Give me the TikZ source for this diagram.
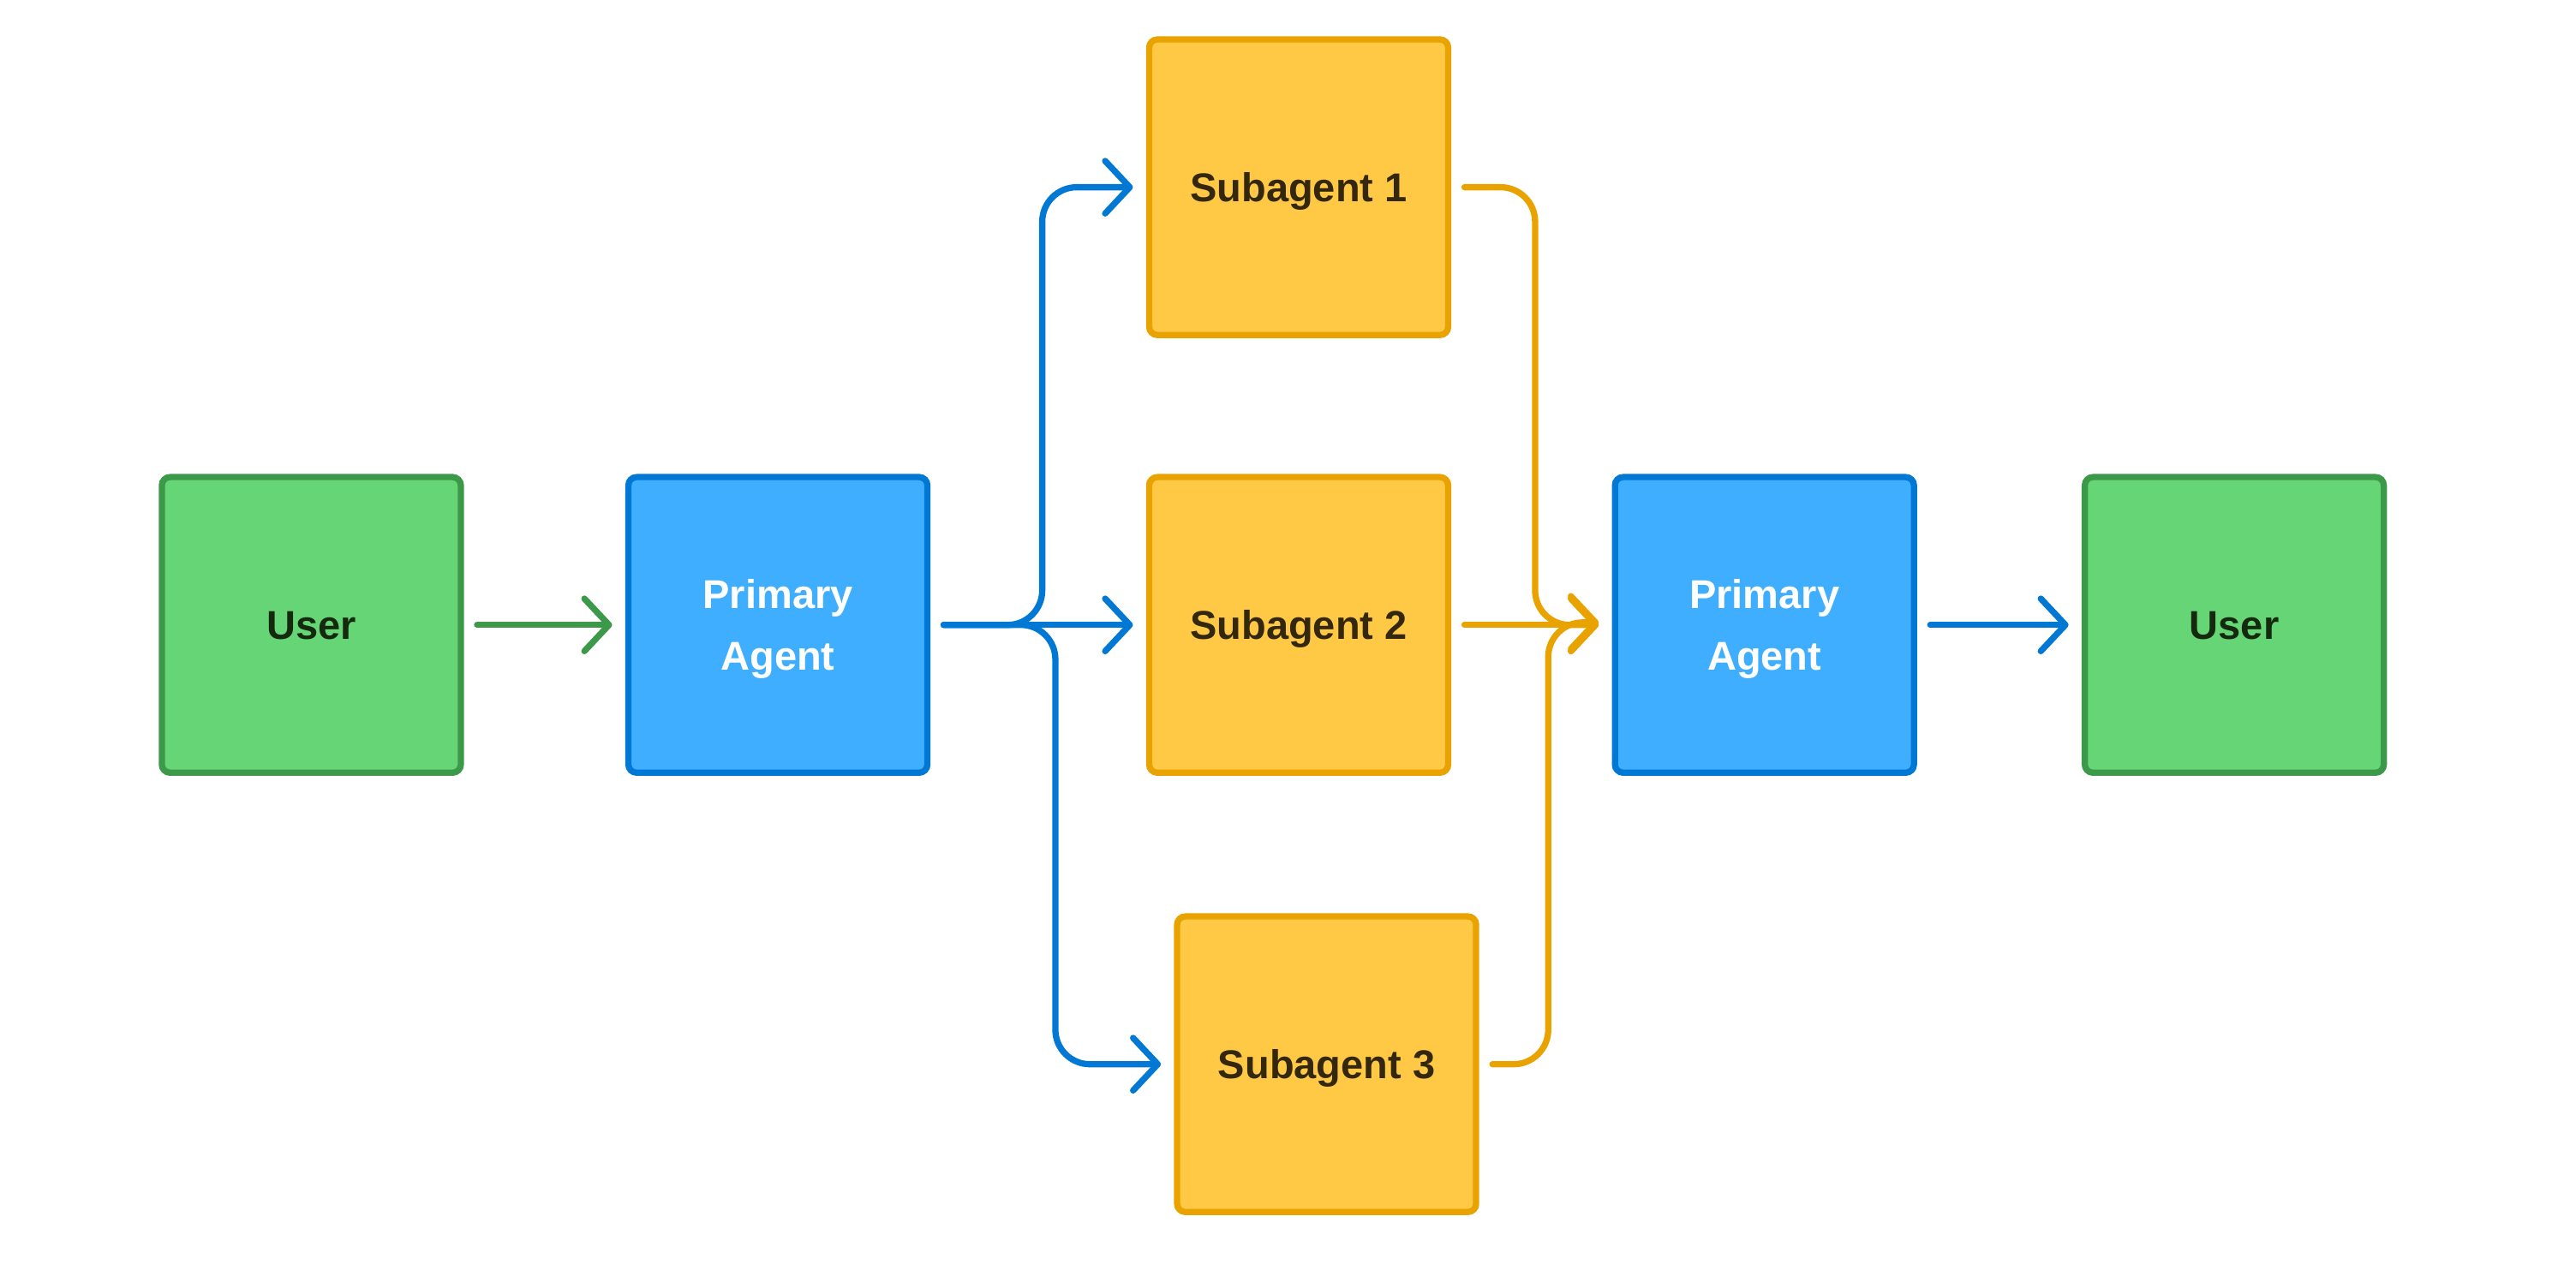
\documentclass[tikz,border=0pt]{standalone}
\usepackage{fontspec}
\setmainfont{Liberation Sans}
\usetikzlibrary{arrows.meta}
\definecolor{gfill}{HTML}{66D575}
\definecolor{gline}{HTML}{3D994A}
\definecolor{gtext}{HTML}{15290F}
\definecolor{bfill}{HTML}{3FAEFF}
\definecolor{bline}{HTML}{0078D4}
\definecolor{yfill}{HTML}{FFC845}
\definecolor{yline}{HTML}{E8A300}
\definecolor{ytext}{HTML}{33270D}
\begin{document}
\begin{tikzpicture}[x=1pt,y=-1pt,
  box/.style={draw, line width=3.8pt, rounded corners=5pt, minimum width=182pt, minimum height=180pt,
    inner sep=0pt, font=\fontsize{24.5}{38}\selectfont\bfseries, align=center,
    text height=17.5pt, text depth=0pt},
  twoline/.style={text height=55.5pt, text depth=0pt},
  userbox/.style={box, fill=gfill, draw=gline, text=gtext},
  agentbox/.style={box, fill=bfill, draw=bline, text=white, twoline},
  subbox/.style={box, fill=yfill, draw=yline, text=ytext},
  conn/.style={line width=3.8pt, line cap=round, rounded corners=21pt,
    shorten <=8pt, shorten >=8pt,
    -{Straight Barb[length=15pt,width=32pt,round]}}
]
\useasboundingbox (0,0) rectangle (1568,773);
\node[userbox] (u1) at (189.5,380.5) {User};
\node[agentbox] (p1) at (473.5,380.5) {Primary\\Agent};
\node[subbox] (s1) at (790.5,114) {Subagent 1};
\node[subbox] (s2) at (790.5,380.5) {Subagent 2};
\node[subbox] (s3) at (807.5,648) {Subagent 3};
\node[agentbox] (p2) at (1074,380.5) {Primary\\Agent};
\node[userbox] (u2) at (1360,380.5) {User};

\draw[conn, draw=gline] (u1) -- (p1);
\draw[conn, draw=bline] (p1.east) -- ++(68,0) |- (s1.west);
\draw[conn, draw=bline] (p1.east) -- (s2.west);
\draw[conn, draw=bline] (p1.east) -- ++(76,0) |- (s3.west);
\draw[conn, draw=yline] (s1.east) -- ++(51,0) |- (p2.west);
\draw[conn, draw=yline] (s2.east) -- (p2.west);
\draw[conn, draw=yline] (s3.east) -- ++(42,0) |- ([yshift=1.5pt]p2.west);
\draw[conn, draw=bline] (p2) -- (u2);
\end{tikzpicture}
\end{document}
